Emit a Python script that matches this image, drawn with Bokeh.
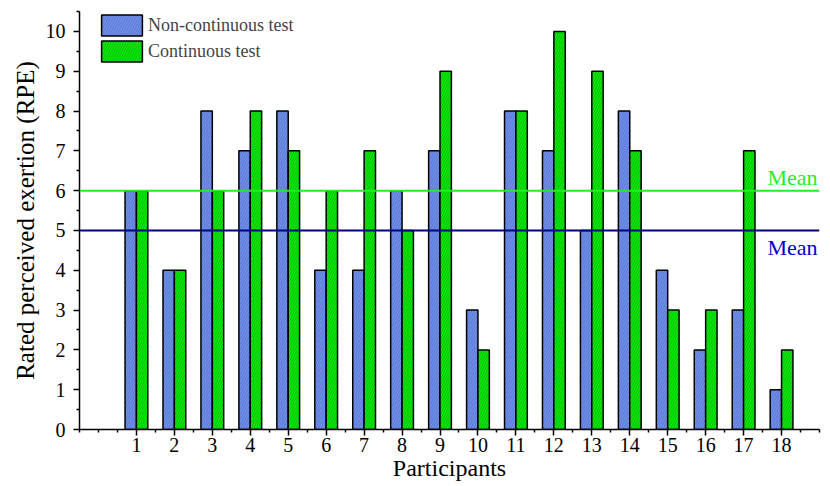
from bokeh.plotting import figure
from bokeh.models import Range1d, FixedTicker, Label, Legend, LegendItem, Span, ColumnDataSource
from bokeh.embed import file_html
from bokeh.resources import INLINE

participants = list(range(1, 19))
non_continuous = [6, 4, 8, 7, 8, 4, 4, 6, 7, 3, 8, 7, 5, 8, 4, 2, 3, 1]
continuous = [6, 4, 6, 8, 7, 6, 7, 5, 9, 2, 8, 10, 9, 7, 3, 3, 7, 2]
mean_non_continuous = 5
mean_continuous = 6
y_ticks = list(range(0, 11))

FONT = "Liberation Serif"
BAR_W = 0.3

src = ColumnDataSource(dict(
    x_nc=[p - BAR_W / 2 for p in participants],
    x_c=[p + BAR_W / 2 for p in participants],
    nc=non_continuous, c=continuous,
))

p = figure(width=830, height=486, output_backend="svg", toolbar_location=None,
           x_range=Range1d(-0.5, 19), y_range=Range1d(0, 10.5),
           min_border_left=79, min_border_right=11, min_border_top=11, min_border_bottom=57)
p.outline_line_color = None
p.grid.visible = False

r_nc = p.vbar(x="x_nc", top="nc", width=BAR_W, source=src,
              fill_color="#7090EE", line_color="black", line_width=1.5,
              hatch_pattern="/", hatch_color="#4a64b0", hatch_scale=5, hatch_weight=0.6)
r_c = p.vbar(x="x_c", top="c", width=BAR_W, source=src,
             fill_color="#00F000", line_color="black", line_width=1.5,
             hatch_pattern="/", hatch_color="#2a8a2a", hatch_scale=5, hatch_weight=0.6)

p.add_layout(Span(location=mean_continuous, dimension="width", line_color="#22EE22", line_width=2))
p.add_layout(Span(location=mean_non_continuous, dimension="width", line_color="#000080", line_width=2))

p.add_layout(Label(x=19, y=mean_continuous, x_offset=-2, y_offset=1, text="Mean", text_align="right",
                   text_baseline="bottom", text_font=FONT, text_font_size="22px",
                   text_color="#22EE22"))
p.add_layout(Label(x=19, y=mean_non_continuous, x_offset=-2, y_offset=-5, text="Mean", text_align="right",
                   text_baseline="top", text_font=FONT, text_font_size="22px",
                   text_color="#0000CC"))

xminor = [-0.5, 0, 0.5] + [i + 0.5 for i in range(1, 19)] + [19]
p.xaxis.ticker = FixedTicker(ticks=participants, minor_ticks=xminor)
p.yaxis.ticker = FixedTicker(ticks=y_ticks, minor_ticks=[i + 0.5 for i in range(0, 11)])

for ax in (p.xaxis[0], p.yaxis[0]):
    ax.axis_line_width = 1.5
    ax.major_tick_line_width = 1.5
    ax.minor_tick_line_width = 1.5
    ax.major_tick_in = 0
    ax.major_tick_out = 6
    ax.minor_tick_in = 0
    ax.minor_tick_out = 3
    ax.major_label_text_font = FONT
    ax.major_label_text_font_size = "20px"
    ax.major_label_text_color = "black"
    ax.axis_label_text_font = FONT
    ax.axis_label_text_font_style = "normal"
    ax.axis_label_text_color = "black"

p.xaxis.axis_label = "Participants"
p.yaxis.axis_label = "Rated perceived exertion (RPE)"
p.xaxis.axis_label_text_font_size = "24px"
p.yaxis.axis_label_text_font_size = "25px"
p.xaxis.major_label_standoff = 2
p.xaxis.axis_label_standoff = 0
p.yaxis.major_label_standoff = 8
p.yaxis.axis_label_standoff = 4

legend = Legend(items=[LegendItem(label="Non-continuous test", renderers=[r_nc]),
                       LegendItem(label="Continuous test", renderers=[r_c])],
                location=(17, 365), padding=0, margin=0, spacing=-4,
                glyph_width=51, glyph_height=26, label_height=26,
                label_text_font=FONT, label_text_font_size="18px",
                label_standoff=1, border_line_color=None, background_fill_alpha=0)
p.add_layout(legend)

open("out.html", "w").write(file_html(p, INLINE))
